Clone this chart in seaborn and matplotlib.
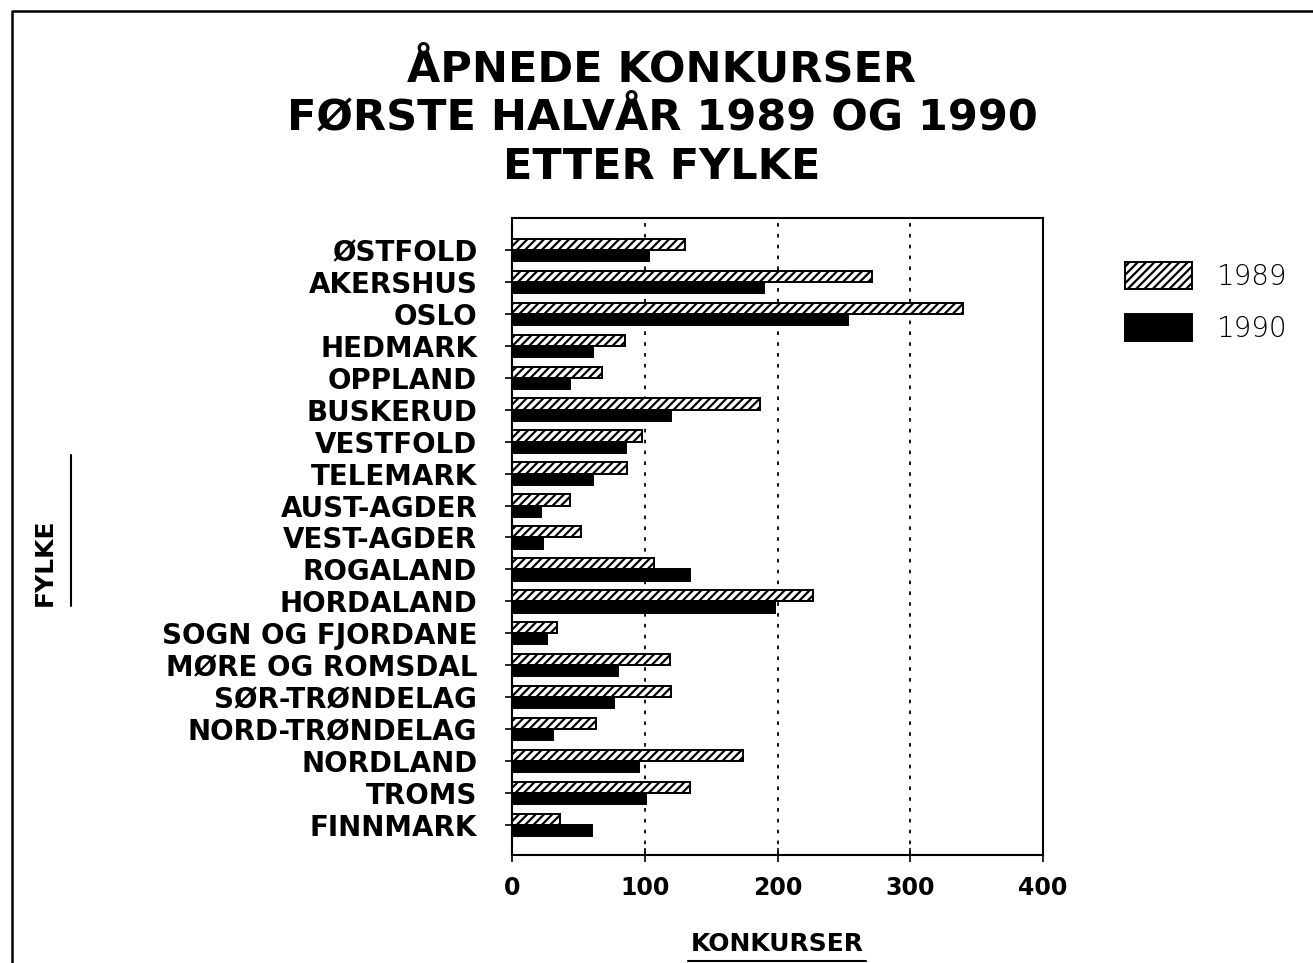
import pandas as pd
import matplotlib
matplotlib.use("Agg")
import matplotlib.pyplot as plt
import matplotlib.patches as mpatches
from matplotlib.lines import Line2D
import seaborn as sns

# ==========================================
# DATA
# ==========================================

fylker = [
    "ØSTFOLD", "AKERSHUS", "OSLO", "HEDMARK", "OPPLAND", "BUSKERUD",
    "VESTFOLD", "TELEMARK", "AUST-AGDER", "VEST-AGDER", "ROGALAND",
    "HORDALAND", "SOGN OG FJORDANE", "MØRE OG ROMSDAL", "SØR-TRØNDELAG",
    "NORD-TRØNDELAG", "NORDLAND", "TROMS", "FINNMARK",
]
konk_1989 = [130, 271, 340, 85, 68, 187, 98, 87, 44, 52, 107, 227, 34, 119, 120, 63, 174, 134, 36]
konk_1990 = [103, 190, 253, 61, 44, 120, 86, 61, 22, 23, 134, 198, 26, 80, 77, 31, 96, 101, 60]
years = ["1989", "1990"]
x_ticks = [0, 100, 200, 300, 400]

df = pd.DataFrame({
    "Fylke": fylker * 2,
    "Aar": [years[0]] * len(fylker) + [years[1]] * len(fylker),
    "Konkurser": konk_1989 + konk_1990,
})

# ==========================================
# STYLE
# ==========================================

sns.set_style("white")
plt.rcParams["font.family"] = ["DejaVu Sans"]
plt.rcParams["text.color"] = "black"
plt.rcParams["xtick.color"] = "black"
plt.rcParams["ytick.color"] = "black"
plt.rcParams["hatch.linewidth"] = 1.6

fig = plt.figure(figsize=(13.13, 9.63), dpi=100)
ax = fig.add_axes([512 / 1313, 108 / 963, 531 / 1313, 637 / 963])

# ==========================================
# BARS
# ==========================================

sns.barplot(
    data=df,
    y="Fylke",
    x="Konkurser",
    hue="Aar",
    order=fylker,
    hue_order=years,
    palette={"1989": "white", "1990": "black"},
    edgecolor="black",
    linewidth=1.4,
    width=0.7,
    orient="h",
    legend=False,
    ax=ax,
)

for bar in ax.containers[0]:
    bar.set_hatch("////")

ax.set_xlim(0, 400)
ax.set_ylim(18.94, -1)
ax.set_xticks(x_ticks)
ax.set_xticklabels([str(t) for t in x_ticks], fontsize=17, fontweight="bold")
ax.set_yticks(range(len(fylker)))
ax.set_yticklabels(fylker, fontsize=20, fontweight="bold")

ax.tick_params(axis="y", direction="out", length=5, width=1.2, pad=20, left=True)
ax.tick_params(axis="x", direction="inout", length=10, width=1.2, pad=10, bottom=True)

for s in ax.spines.values():
    s.set_visible(True)
    s.set_color("black")
    s.set_linewidth(1.5)

ax.set_axisbelow(True)
for v in x_ticks[1:-1]:
    ax.axvline(v, color="black", linestyle=(0, (2, 4)), linewidth=1.3, zorder=0)

ax.set_xlabel("")
ax.set_ylabel("")

# ==========================================
# TEXTS
# ==========================================

fig.text(
    662 / 1313, 1 - 118 / 963,
    "ÅPNEDE KONKURSER\nFØRSTE HALVÅR 1989 OG 1990\nETTER FYLKE",
    ha="center", va="center", fontsize=31, fontweight="bold", linespacing=1.2,
)

fig.text(777 / 1313, 1 - 944 / 963, "KONKURSER", ha="center", va="center",
         fontsize=18, fontweight="bold")
fig.add_artist(Line2D([688 / 1313, 866 / 1313], [1 - 961 / 963] * 2,
                      transform=fig.transFigure, color="black", linewidth=1.5))

fig.text(45 / 1313, 1 - 562 / 963, "FYLKE", ha="center", va="center",
         rotation=90, fontsize=18, fontweight="bold")
fig.add_artist(Line2D([71 / 1313] * 2, [1 - 455 / 963, 1 - 606 / 963],
                      transform=fig.transFigure, color="black", linewidth=1.5))

# outer frame (left and top only)
fig.add_artist(Line2D([12 / 1313, 12 / 1313, 1.0], [0, 1 - 11 / 963, 1 - 11 / 963],
                      transform=fig.transFigure, color="black", linewidth=1.8))

# ==========================================
# LEGEND
# ==========================================

handles = [
    mpatches.Patch(facecolor="white", edgecolor="black", hatch="////", linewidth=1.4),
    mpatches.Patch(facecolor="black", edgecolor="black", linewidth=1.4),
]
fig.legend(
    handles, years,
    loc="upper left",
    bbox_to_anchor=(1100 / 1313, 1 - 237 / 963),
    frameon=False,
    prop={"weight": "light", "size": 20},
    handlelength=2.4,
    handleheight=1.1,
    handletextpad=0.9,
    labelspacing=0.85,
)

plt.savefig("out.png", dpi=100)
